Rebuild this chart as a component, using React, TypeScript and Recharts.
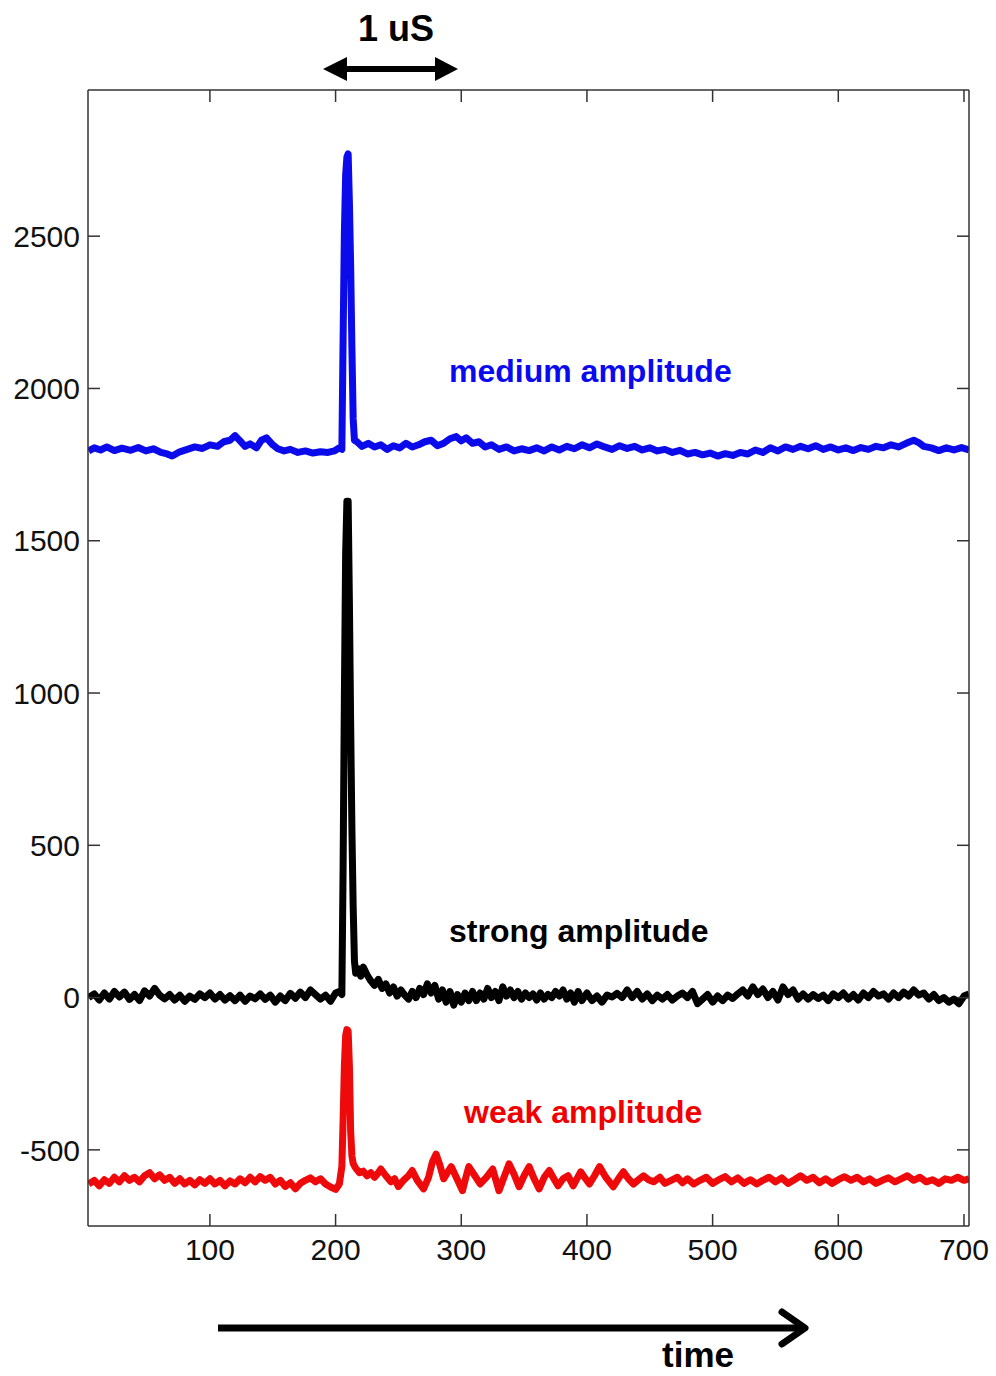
import React from 'react';
import { LineChart, Line, XAxis, YAxis } from 'recharts';

const xTicks = [100, 200, 300, 400, 500, 600, 700];
const yTicks = [-500, 0, 500, 1000, 1500, 2000, 2500];
const xDomain = [3, 704];
const yDomain = [-750, 2980];

const mediumTime = [3.5, 8, 13, 18, 24, 30, 37, 43, 49, 55, 61, 66, 70, 76, 82, 88, 94, 100, 106, 111, 116, 120, 124, 128, 132, 137, 141, 145, 150, 154, 159, 164, 170, 176, 182, 188, 194, 199, 203, 205, 206, 207, 208, 209, 210, 211, 212, 213, 214, 215, 217, 221, 226, 231, 236, 241, 246, 251, 256, 261, 266, 271, 276, 281, 286, 291, 296, 300, 304, 309, 314, 319, 324, 330, 336, 342, 348, 354, 360, 366, 372, 378, 384, 390, 396, 402, 408, 414, 420, 426, 432, 438, 444, 450, 456, 462, 468, 474, 480, 486, 492, 498, 504, 510, 516, 522, 528, 534, 540, 546, 552, 558, 564, 570, 576, 582, 588, 594, 600, 606, 612, 618, 624, 630, 636, 642, 648, 654, 660, 664, 668, 674, 680, 686, 692, 698, 704];
const mediumValue = [1795, 1805, 1798, 1808, 1796, 1804, 1797, 1806, 1795, 1802, 1790, 1785, 1778, 1792, 1800, 1808, 1803, 1815, 1810, 1825, 1830, 1845, 1828, 1810, 1818, 1805, 1830, 1838, 1815, 1802, 1795, 1800, 1790, 1795, 1788, 1792, 1790, 1795, 1805, 1800, 2170, 2510, 2700, 2760, 2770, 2610, 2400, 2130, 1900, 1830, 1825, 1810, 1820, 1808, 1815, 1800, 1812, 1805, 1820, 1808, 1815, 1825, 1830, 1812, 1820, 1835, 1842, 1828, 1838, 1820, 1825, 1808, 1815, 1800, 1808, 1795, 1802, 1796, 1805, 1795, 1808, 1798, 1810, 1802, 1815, 1805, 1818, 1808, 1800, 1812, 1803, 1810, 1798, 1805, 1795, 1800, 1790, 1797, 1785, 1790, 1782, 1788, 1778, 1786, 1780, 1790, 1785, 1798, 1790, 1805, 1795, 1808, 1800, 1810, 1802, 1812, 1800, 1808, 1798, 1805, 1796, 1806, 1800, 1810, 1805, 1815, 1808, 1820, 1830, 1822, 1810, 1805, 1796, 1805, 1798, 1806, 1798];

const strongTime = [3.5, 8, 12, 16, 20, 24, 28, 32, 36, 40, 44, 48, 52, 56, 60, 64, 68, 72, 76, 80, 84, 88, 92, 96, 100, 104, 108, 112, 116, 120, 124, 128, 132, 136, 140, 144, 148, 152, 156, 160, 164, 168, 172, 176, 180, 184, 188, 192, 196, 200, 203, 205, 206, 207, 208, 209, 210, 211, 212, 213, 214, 215, 216, 218, 220, 222, 225, 228, 231, 234, 237, 240, 243, 246, 249, 252, 255, 258, 261, 264, 267, 270, 273, 276, 279, 282, 285, 288, 291, 294, 297, 300, 303, 306, 309, 312, 315, 318, 321, 324, 327, 330, 333, 336, 339, 342, 345, 348, 351, 354, 357, 360, 363, 366, 369, 372, 375, 378, 381, 384, 387, 390, 393, 396, 400, 404, 408, 412, 416, 420, 424, 428, 432, 436, 440, 444, 448, 452, 456, 460, 464, 468, 472, 476, 480, 484, 488, 492, 496, 500, 504, 508, 512, 516, 520, 524, 528, 532, 536, 540, 544, 548, 552, 556, 560, 564, 568, 572, 576, 580, 584, 588, 592, 596, 600, 604, 608, 612, 616, 620, 624, 628, 632, 636, 640, 644, 648, 652, 656, 660, 664, 668, 672, 676, 680, 684, 688, 692, 696, 700, 704];
const strongValue = [0, 12, -8, 15, -5, 20, 2, 18, -6, 10, -10, 22, 5, 30, 8, -4, 10, -8, 8, -12, 5, -6, 12, 0, 15, -5, 10, -8, 6, -10, 8, -12, 5, -4, 12, -6, 8, -15, 5, -10, 14, -2, 18, 0, 25, 10, -5, 8, -12, 15, 20, 10, 435, 987, 1458, 1630, 1630, 1298, 895, 550, 297, 120, 80, 95, 70, 100, 75, 55, 40, 60, 30, 45, 15, 35, 5, 25, 8, -5, 20, 0, 30, 10, 45, 15, 40, -5, 25, -15, 20, -25, 10, -15, 15, -10, 20, -10, 15, -5, 30, 0, 20, -10, 35, 5, 25, 0, 20, -5, 15, 0, 12, -8, 15, -5, 10, 0, 20, 5, 25, -5, 15, -15, 20, -10, 15, -10, 5, -15, 8, 2, 14, 0, 25, 0, 20, -5, 12, -10, 8, -5, 10, -8, 5, 15, 0, 20, -20, -5, 10, -15, 5, -10, 8, -3, 12, 25, 5, 35, 10, 28, 0, 20, -8, 35, 10, 25, -5, 12, -5, 10, -3, 8, -10, 12, 0, 15, -5, 10, -8, 15, 0, 20, 5, 12, -5, 15, 0, 18, 5, 25, 8, 15, -5, 10, -10, 0, -15, -5, -20, 5, 12];

const weakTime = [3.5, 8, 12, 16, 20, 24, 28, 32, 36, 40, 44, 48, 52, 56, 60, 64, 68, 72, 76, 80, 84, 88, 92, 96, 100, 104, 108, 112, 116, 120, 124, 128, 132, 136, 140, 144, 148, 152, 156, 160, 164, 168, 172, 176, 180, 184, 188, 192, 196, 200, 203, 205, 206, 207, 208, 209, 210, 211, 212, 213, 214, 216, 219, 222, 225, 228, 231, 234, 236, 240, 244, 247, 250, 254, 258, 261, 265, 270, 274, 277, 280, 283, 286, 289, 292, 296, 301, 304, 306, 310, 315, 320, 325, 330, 334, 338, 342, 346, 350, 354, 358, 362, 366, 370, 373, 377, 381, 385, 389, 392, 395, 398, 402, 406, 410, 415, 421, 425, 429, 433, 437, 441, 445, 449, 453, 458, 462, 467, 472, 476, 480, 485, 490, 495, 500, 505, 510, 515, 520, 525, 530, 535, 540, 545, 550, 555, 560, 565, 570, 575, 580, 585, 590, 595, 600, 605, 610, 615, 620, 625, 630, 635, 640, 645, 650, 655, 660, 665, 670, 675, 680, 685, 690, 695, 700, 704];
const weakValue = [-612, -600, -618, -598, -610, -590, -605, -585, -600, -590, -605, -585, -575, -595, -582, -600, -590, -610, -595, -612, -600, -615, -598, -610, -595, -612, -600, -618, -602, -612, -595, -608, -590, -605, -588, -600, -590, -612, -600, -620, -608, -628, -610, -600, -592, -605, -595, -612, -622, -630, -612, -555, -400, -225, -125, -105, -110, -225, -440, -520, -545, -560, -575, -570, -585, -575, -590, -575, -563, -585, -605, -595, -621, -600, -585, -568, -600, -628, -590, -540, -514, -550, -595, -575, -555, -590, -634, -585, -555, -580, -612, -590, -563, -634, -590, -546, -580, -621, -585, -555, -595, -628, -590, -568, -590, -618, -595, -585, -618, -595, -572, -590, -612, -585, -555, -590, -621, -595, -572, -595, -612, -598, -585, -598, -605, -590, -610, -600, -590, -608, -595, -612, -600, -590, -610, -598, -588, -605, -592, -610, -598, -612, -600, -590, -605, -592, -610, -598, -585, -600, -590, -608, -595, -610, -598, -588, -600, -590, -605, -595, -610, -600, -592, -605, -595, -585, -600, -590, -605, -598, -610, -595, -600, -590, -600, -595];

const toData = (t: number[], v: number[]) => t.map((x, i) => ({ t: x, v: v[i] }));
const mediumData = toData(mediumTime, mediumValue);
const strongData = toData(strongTime, strongValue);
const weakData = toData(weakTime, weakValue);

const FONT = 'Liberation Sans, Arial, Helvetica, sans-serif';
const tickStyle = { fontSize: 30, fill: '#111', fontFamily: FONT };
const frame = { stroke: '#333', strokeWidth: 1.5 };
const noLabel = () => <g />;

export default function App() {
  return (
    <div style={{ position: 'absolute', left: 0, top: 0, width: 996, height: 1376, background: '#fff' }}>
      <LineChart width={996} height={1376} margin={{ top: 89, right: 0, bottom: 90, left: 0 }}>
        <XAxis xAxisId="b" dataKey="t" type="number" orientation="bottom" domain={xDomain} allowDataOverflow ticks={xTicks} height={60} tickSize={-12} tickMargin={25} tick={tickStyle} axisLine={frame} tickLine={frame} interval={0} />
        <XAxis xAxisId="top" dataKey="t" type="number" orientation="top" domain={xDomain} allowDataOverflow ticks={xTicks} height={1} tickSize={-12} tick={noLabel} axisLine={frame} tickLine={frame} interval={0} />
        <YAxis yAxisId="l" type="number" orientation="left" domain={yDomain} allowDataOverflow ticks={yTicks} width={88} tickSize={-12} tickMargin={20} tick={tickStyle} axisLine={frame} tickLine={frame} interval={0} />
        <YAxis yAxisId="right" type="number" orientation="right" domain={yDomain} allowDataOverflow ticks={yTicks} width={27} tickSize={-12} tick={noLabel} axisLine={frame} tickLine={frame} interval={0} />
        <Line xAxisId="b" yAxisId="l" data={mediumData} dataKey="v" type="linear" stroke="#0A0AEB" strokeWidth={7} strokeLinejoin="round" dot={false} isAnimationActive={false} />
        <Line xAxisId="b" yAxisId="l" data={strongData} dataKey="v" type="linear" stroke="#000" strokeWidth={7} strokeLinejoin="round" dot={false} isAnimationActive={false} />
        <Line xAxisId="b" yAxisId="l" data={weakData} dataKey="v" type="linear" stroke="#EE0A0A" strokeWidth={7} strokeLinejoin="round" dot={false} isAnimationActive={false} />
      </LineChart>
      <svg width={996} height={1376} style={{ position: 'absolute', left: 0, top: 0, pointerEvents: 'none' }}>
        <text x={358} y={41} fontSize={36} fontWeight="bold" fontFamily={FONT} fill="#000">1 uS</text>
        <rect x={344} y={66} width={94} height={6} fill="#000" />
        <polygon points="323,69 347,57 347,81" fill="#000" />
        <polygon points="458,69 435,57 435,81" fill="#000" />
        <text x={449} y={382} fontSize={32} fontWeight="bold" fontFamily={FONT} fill="#0A0AF0">medium amplitude</text>
        <text x={449} y={942} fontSize={32} fontWeight="bold" fontFamily={FONT} fill="#000">strong amplitude</text>
        <text x={464} y={1123} fontSize={32} fontWeight="bold" fontFamily={FONT} fill="#F00000">weak amplitude</text>
        <line x1={218} y1={1328} x2={802} y2={1328} stroke="#000" strokeWidth={7} />
        <polyline points="782,1312 805,1328 782,1344" fill="none" stroke="#000" strokeWidth={7} strokeLinecap="round" strokeLinejoin="round" />
        <text x={662} y={1367} fontSize={35} fontWeight="bold" fontFamily={FONT} fill="#000">time</text>
      </svg>
    </div>
  );
}
